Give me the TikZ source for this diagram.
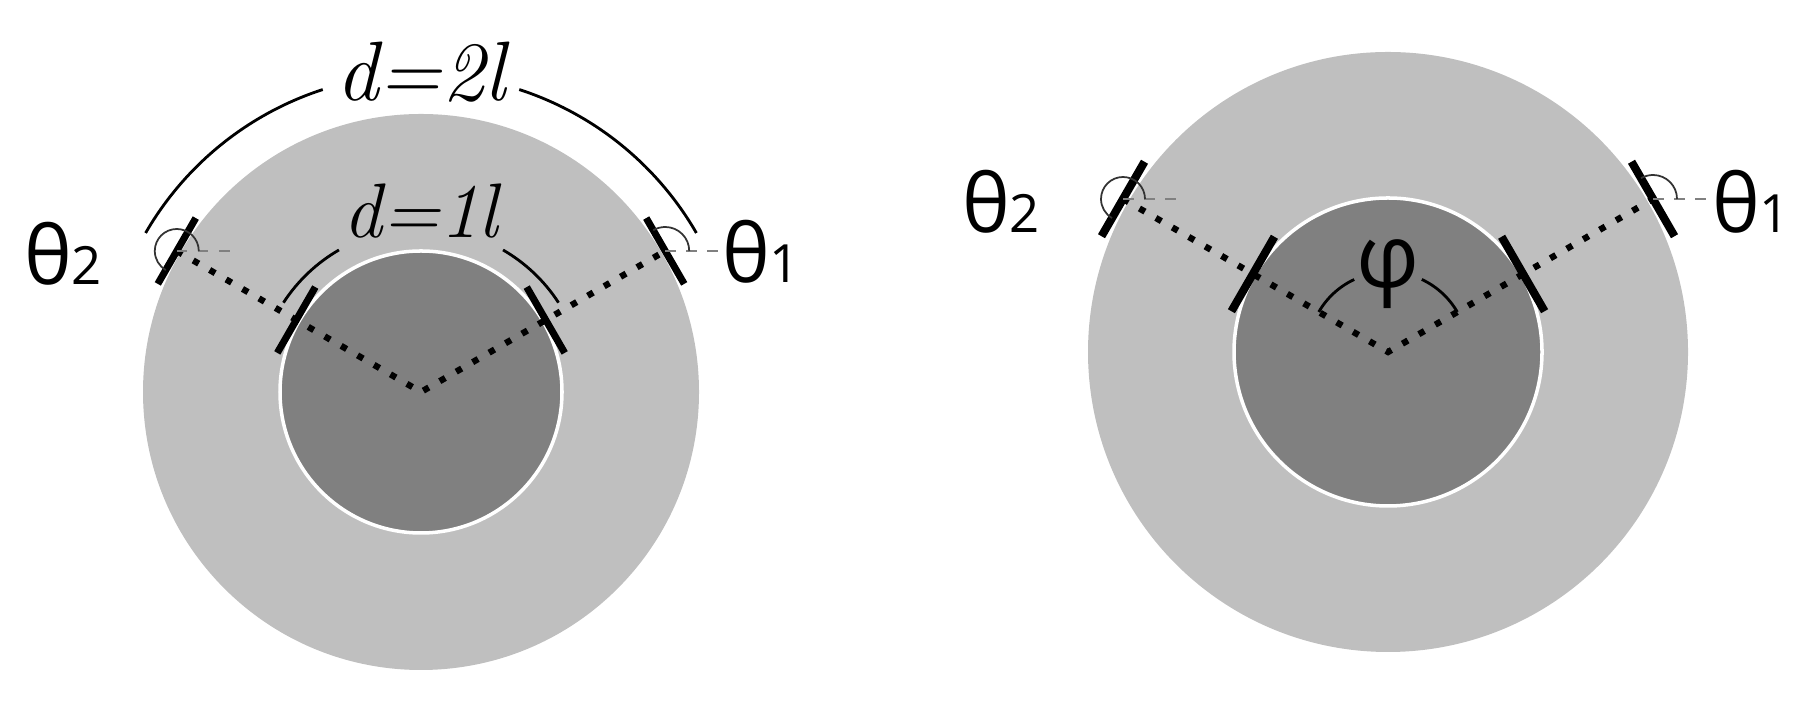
\documentclass[tikz,border=0pt]{standalone}
\usepackage{fontspec}
\newfontfamily\grkfont{Open Sans}
\usetikzlibrary{calc}
\definecolor{ringgray}{gray}{0.75}
\definecolor{coregray}{gray}{0.5}
\tikzset{
  tickmark/.style={line width=2pt},
  dotline/.style={line width=1.8pt, dash pattern=on 1.8pt off 3.6pt},
  measarc/.style={line width=0.8pt},
  anglearc/.style={line width=0.5pt, black!80},
  refline/.style={line width=0.8pt, gray, dash pattern=on 3pt off 3pt},
  glabel/.style={font=\grkfont\fontsize{23}{27}\selectfont, inner sep=0pt},
  dlabel/.style={anchor=base, inner sep=0pt}
}
\newcommand{\sm}[1]{{\fontsize{15}{17}\selectfont #1}}
\begin{document}
\begin{tikzpicture}[x=0.1mm,y=0.1mm]
\useasboundingbox (0,0) rectangle (1809,716);
% left disk
\coordinate (L) at (421,324);
\fill[ringgray] (L) circle (278);
\draw[white, line width=1pt, fill=coregray] (L) circle (141);
\coordinate (Lo2) at ($(L)+(150:282)$);
\coordinate (Li2) at ($(L)+(150:144)$);
\coordinate (Li1) at ($(L)+(30:144)$);
\coordinate (Lo1) at ($(L)+(30:282)$);
\draw[dotline] (Lo2) -- (L) -- (Lo1);
\foreach \p/\a in {Lo2/150,Li2/150,Li1/30,Lo1/30}
  \draw[tickmark] ($(\p)+(\a+90:38)$) -- ($(\p)+(\a-90:38)$);
\draw[measarc] ($(L)+(150:318)$) arc[start angle=150, end angle=108, radius=318];
\draw[measarc] ($(L)+(72:318)$) arc[start angle=72, end angle=30, radius=318];
\node[dlabel, font=\itshape\fontsize{24}{28}\selectfont] (d2) at ($(L)+(0,291)$) {d=2l};
\draw[measarc] ($(L)+(147:164)$) arc[start angle=147, end angle=120, radius=164];
\draw[measarc] ($(L)+(60:164)$) arc[start angle=60, end angle=33, radius=164];
\node[dlabel, font=\itshape\fontsize{22}{26}\selectfont] (d1) at ($(L)+(0,154)$) {d=1l};
\draw[refline] (Lo2) -- ++(55,0);
\draw[anglearc] ($(Lo2)+(0:22)$) arc[start angle=0, end angle=240, radius=22];
\draw[refline] (Lo1) -- ++(55,0);
\draw[anglearc] ($(Lo1)+(0:24)$) arc[start angle=0, end angle=120, radius=24];
\node[glabel] (th2L) at (63,462) {θ\sm{2}};
\node[glabel] (th1L) at (761,464) {θ\sm{1}};
% right disk
\coordinate (R) at (1388,364);
\fill[ringgray] (R) circle (300);
\draw[white, line width=1pt, fill=coregray] (R) circle (154);
\coordinate (Ro2) at ($(R)+(150:306)$);
\coordinate (Ri2) at ($(R)+(150:156)$);
\coordinate (Ri1) at ($(R)+(30:156)$);
\coordinate (Ro1) at ($(R)+(30:306)$);
\draw[dotline] (Ro2) -- (R) -- (Ro1);
\foreach \p/\a in {Ro2/150,Ri2/150,Ri1/30,Ro1/30}
  \draw[tickmark, line width=2.3pt] ($(\p)+(\a+90:43)$) -- ($(\p)+(\a-90:43)$);
\draw[measarc] ($(R)+(150:80)$) arc[start angle=150, end angle=115, radius=80];
\draw[measarc] ($(R)+(65:80)$) arc[start angle=65, end angle=30, radius=80];
\node[glabel, font=\grkfont\fontsize{25}{29}\selectfont] (phi) at ($(R)+(0,78)$) {φ};
\draw[refline] (Ro2) -- ++(62,0);
\draw[anglearc] ($(Ro2)+(0:22)$) arc[start angle=0, end angle=240, radius=22];
\draw[refline] (Ro1) -- ++(58,0);
\draw[anglearc] ($(Ro1)+(0:24)$) arc[start angle=0, end angle=120, radius=24];
\node[glabel] (th2R) at (1001,514) {θ\sm{2}};
\node[glabel] (th1R) at (1751,514) {θ\sm{1}};
\end{tikzpicture}
\end{document}
